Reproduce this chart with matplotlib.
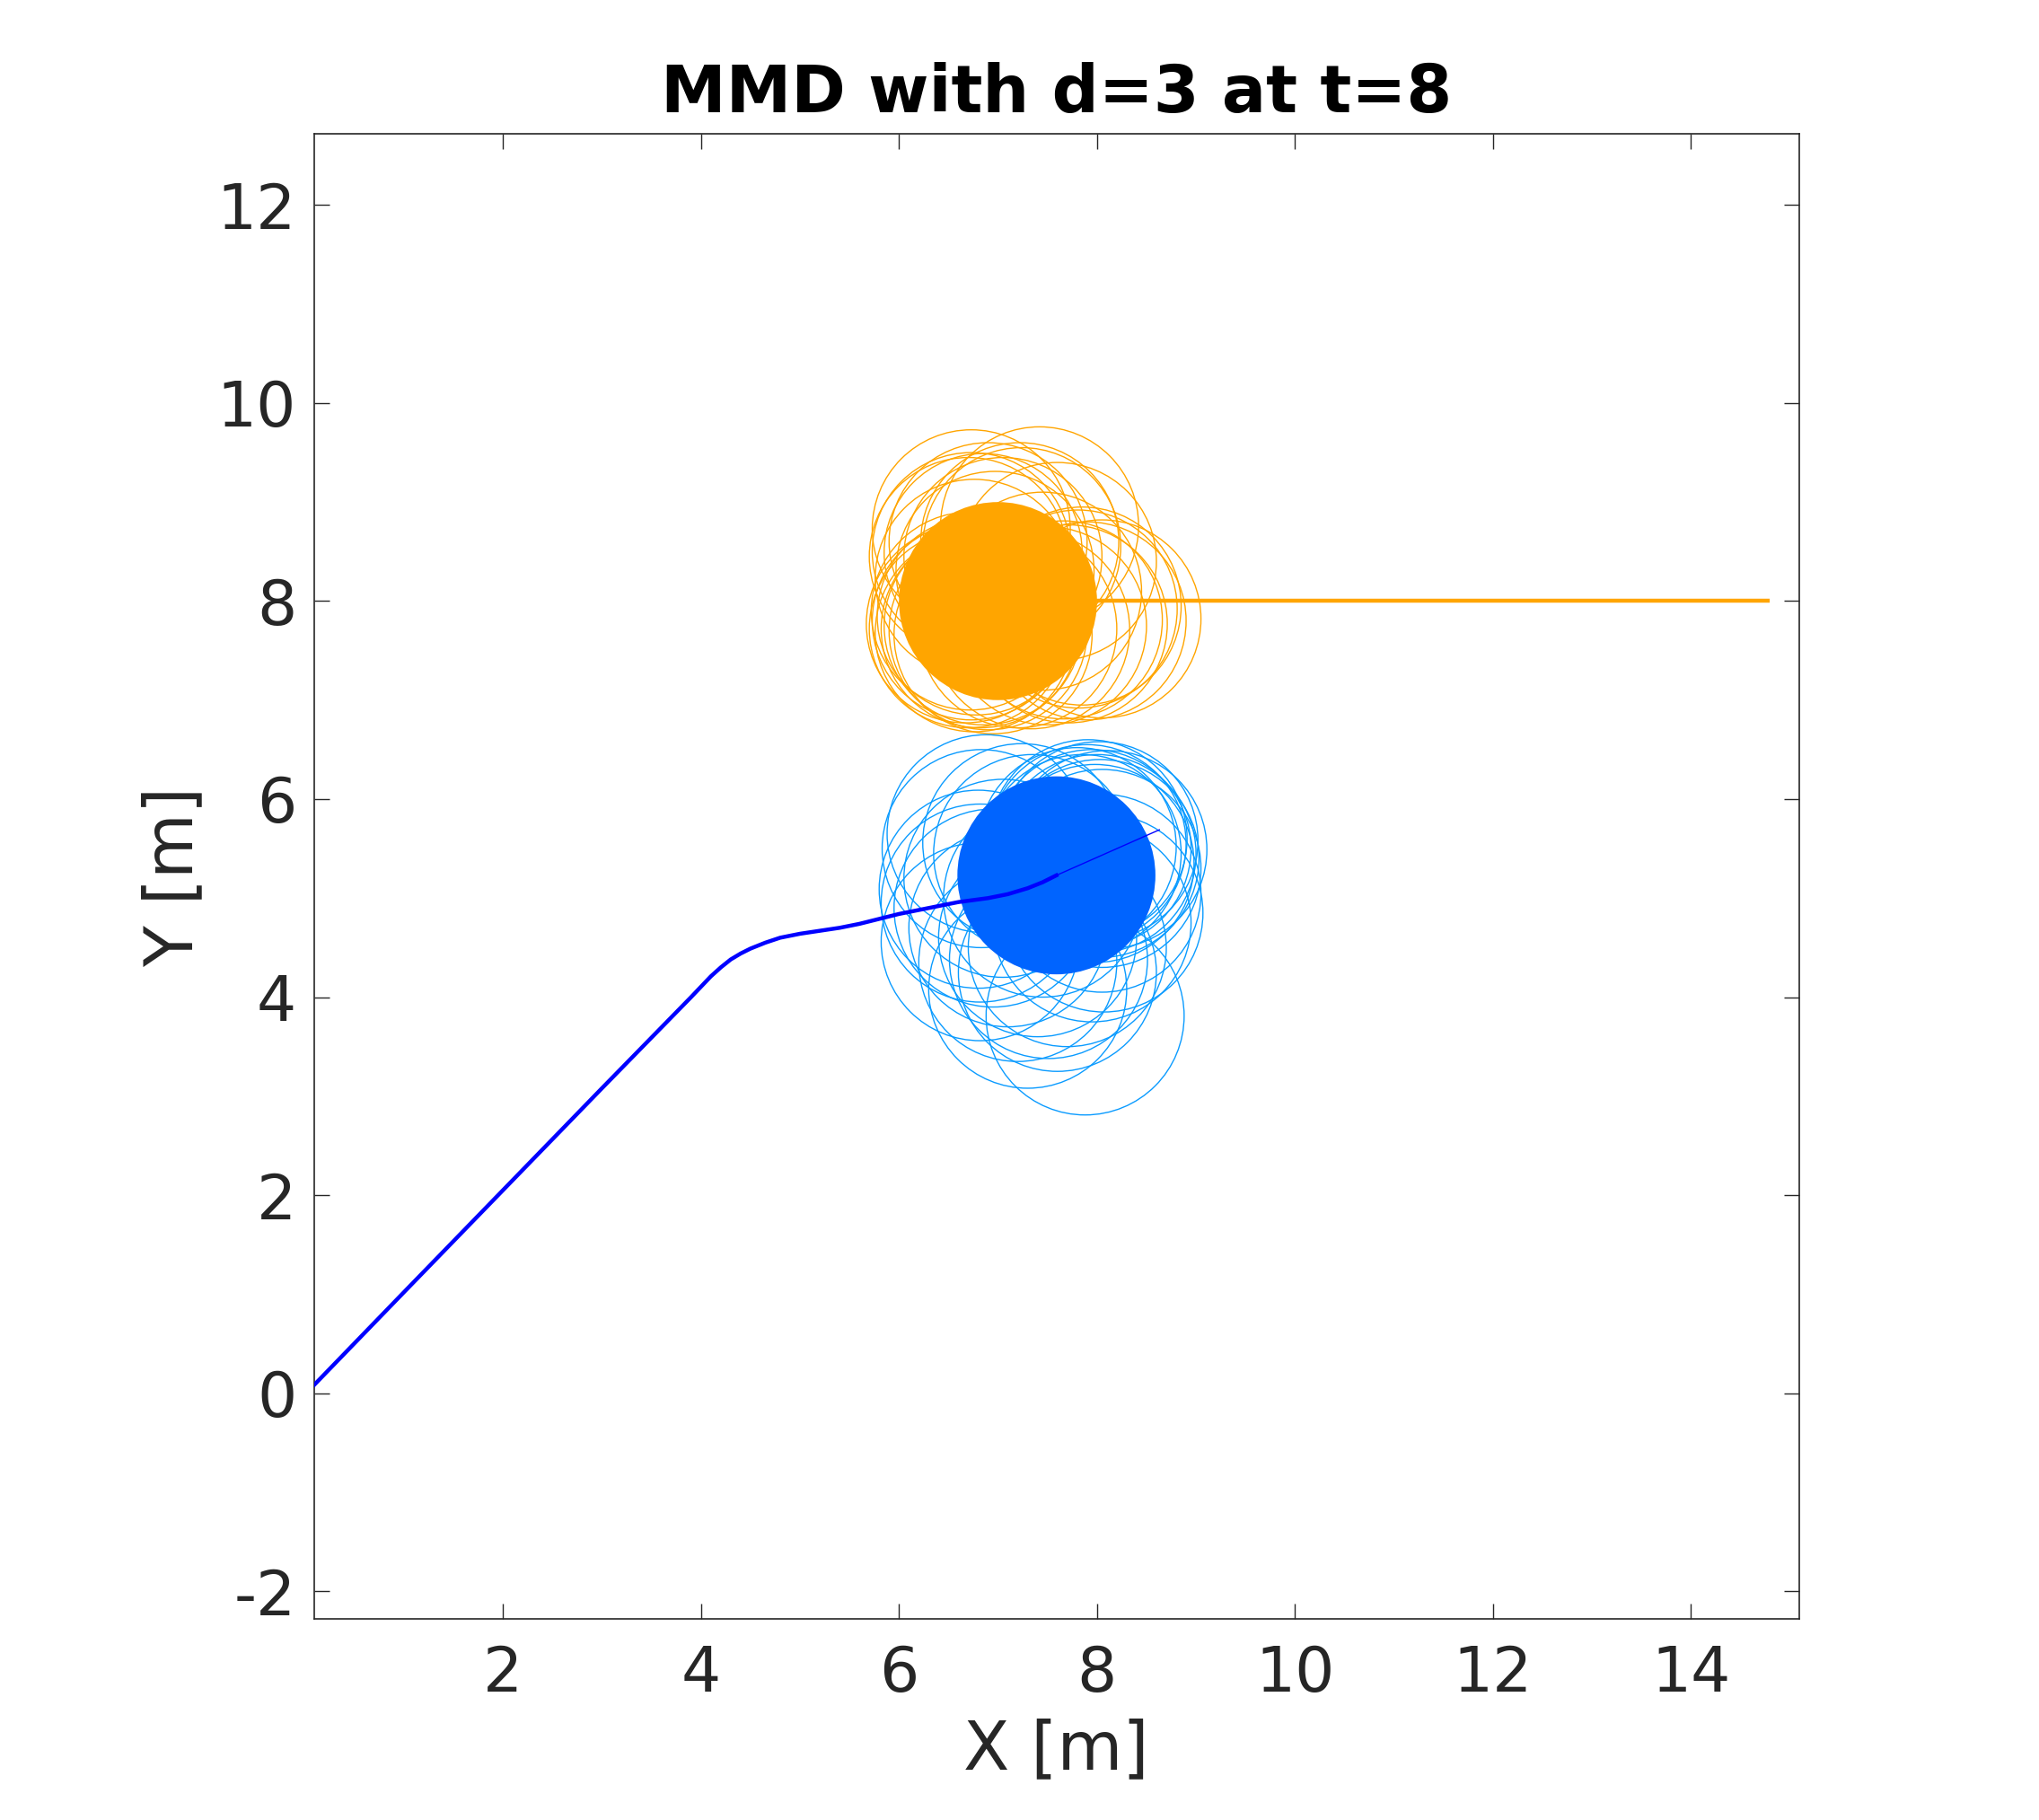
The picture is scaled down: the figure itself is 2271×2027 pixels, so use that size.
import matplotlib
matplotlib.use("Agg")
import matplotlib.pyplot as plt
from matplotlib.patches import Circle

# ---------------- data ----------------
title = "MMD with d=3 at t=8"
x_label = "X [m]"
y_label = "Y [m]"
x_ticks = [2, 4, 6, 8, 10, 12, 14]
y_ticks = [-2, 0, 2, 4, 6, 8, 10, 12]
x_lim = [0.09, 15.09]
y_lim = [-2.28, 12.72]

radius = 1.0

# ego (blue) travelled path
ego_path_x = [0.09, 1.0, 2.0, 3.0, 3.9, 4.1, 4.2, 4.3, 4.4, 4.5, 4.65, 4.8, 5.0,
              5.2, 5.4, 5.6, 5.8, 6.0, 6.3, 6.6, 6.9, 7.1, 7.3, 7.45, 7.59]
ego_path_y = [0.08, 1.02, 2.05, 3.08, 4.00, 4.21, 4.30, 4.38, 4.44, 4.49, 4.55, 4.60, 4.64,
              4.67, 4.70, 4.74, 4.79, 4.84, 4.90, 4.96, 5.00, 5.04, 5.10, 5.16, 5.23]
# ego predicted segment
ego_pred_x = [7.59, 8.63]
ego_pred_y = [5.23, 5.69]
ego_pos = (7.59, 5.23)

# obstacle (orange) path
obs_path_x = [14.79, 7.0]
obs_path_y = [8.0, 8.0]
obs_pos = (7.0, 8.0)

# sampled obstacle positions (orange outlines)
obs_samples_x = [6.67, 6.70, 6.73, 6.76, 6.82, 6.85, 6.78, 6.90, 6.95, 6.72,
                 6.73, 6.70, 6.85, 6.97, 6.76, 6.73, 7.24, 7.42, 7.22, 6.90, 7.05,
                 7.60, 7.81, 7.90, 8.05, 7.71, 7.66, 7.33, 7.50, 7.20, 7.85, 7.45]
obs_samples_y = [7.77, 7.72, 7.80, 7.68, 7.72, 7.75, 7.85, 7.70, 7.66, 7.90,
                 8.50, 8.45, 8.49, 8.31, 8.23, 8.73, 8.55, 8.76, 8.60, 8.60, 8.45,
                 8.40, 7.92, 7.80, 7.82, 7.77, 7.81, 7.71, 7.75, 7.72, 7.95, 8.10]

# sampled ego positions (light-blue outlines)
ego_samples_x = [6.80, 6.83, 6.88, 7.24, 7.91, 8.11, 8.07, 7.88, 7.30, 7.51, 6.82,
                 8.00, 7.95, 8.03, 7.98, 7.90, 8.05, 7.85, 8.02, 7.80,
                 7.10, 7.40, 7.70, 7.95, 7.60, 7.20, 7.05, 6.95, 7.45, 8.05, 7.35, 6.82]
ego_samples_y = [5.09, 5.50, 5.65, 5.56, 5.60, 5.49, 4.85, 3.81, 4.08, 4.38, 4.56,
                 5.45, 5.50, 5.40, 5.35, 5.55, 5.30, 5.45, 5.58, 5.52,
                 4.70, 4.60, 4.50, 4.75, 4.25, 4.35, 5.20, 4.90, 5.00, 5.05, 5.45, 4.95]

# ---------------- style ----------------
ORANGE = "#FFA500"
BLUE_FILL = "#0064FF"
BLUE_OUT = "#0A9BFF"
PATH_BLUE = "#0000FF"
AX_COL = "#262626"

plt.rcParams['font.family'] = ['DejaVu Sans']

fig = plt.figure(figsize=(22.71, 20.27), dpi=100)
ax = fig.add_axes([0.1539, 0.1105, 0.7284, 0.816])

for cx, cy in zip(obs_samples_x, obs_samples_y):
    ax.add_patch(Circle((cx, cy), radius, fill=False, edgecolor=ORANGE, linewidth=1.0, zorder=2))
for cx, cy in zip(ego_samples_x, ego_samples_y):
    ax.add_patch(Circle((cx, cy), radius, fill=False, edgecolor=BLUE_OUT, linewidth=1.0, zorder=2))

ax.plot(obs_path_x, obs_path_y, color=ORANGE, linewidth=3.2, zorder=3, solid_capstyle='butt')
ax.add_patch(Circle(obs_pos, radius, facecolor=ORANGE, edgecolor='none', zorder=4))
ax.add_patch(Circle(ego_pos, radius, facecolor=BLUE_FILL, edgecolor='none', zorder=4))
ax.plot(ego_path_x, ego_path_y, color=PATH_BLUE, linewidth=3.2, zorder=5,
        solid_joinstyle='round')
ax.plot(ego_pred_x, ego_pred_y, color=PATH_BLUE, linewidth=1.0, zorder=5)

ax.set_xlim(x_lim)
ax.set_ylim(y_lim)
ax.set_aspect('equal', adjustable='box')
ax.set_xticks(x_ticks)
ax.set_yticks(y_ticks)
ax.set_yticklabels([str(v) for v in y_ticks])

ax.tick_params(direction='in', length=12, width=1.0, colors=AX_COL,
               labelsize=50, top=True, right=True)
ax.tick_params(axis='y', pad=14)
ax.tick_params(axis='x', pad=20)
for s in ax.spines.values():
    s.set_color(AX_COL)
    s.set_linewidth(1.2)

ax.set_xlabel(x_label, fontsize=54, color=AX_COL, labelpad=11)
ax.set_ylabel(y_label, fontsize=54, color=AX_COL, labelpad=8)
ax.set_title(title, fontsize=52.5, fontweight='bold', color='black', pad=17)

fig.savefig("out.png", dpi=100)
